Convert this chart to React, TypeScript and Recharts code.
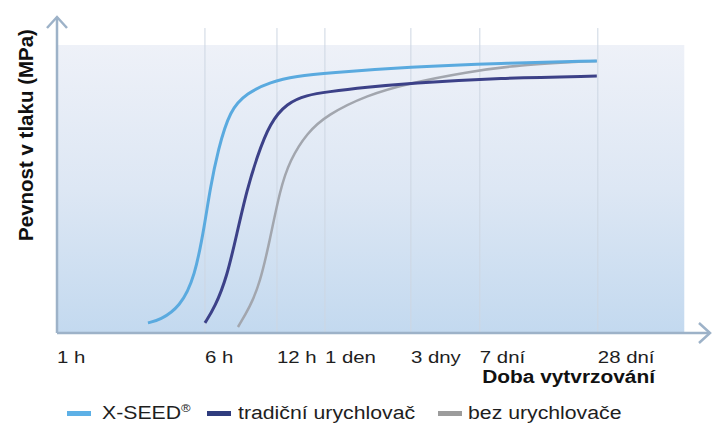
import React from 'react';
import { LineChart, Line, XAxis, YAxis, ReferenceArea, ReferenceLine } from 'recharts';

// x values are positions on the drawn (roughly logarithmic) time axis
const tickPositions = [0, 1.783, 2.651, 3.229, 4.265, 5.096, 6.518];
const tickLabels = ['1 h', '6 h', '12 h', '1 den', '3 dny', '7 dní', '28 dní'];

const xseedTime = [1.096, 1.241, 1.482, 1.663, 1.783, 1.843, 1.94, 2.084, 2.289, 2.566, 2.892, 3.253, 4.253, 5.337, 6.506];
const xseedStrength = [3.2, 4.1, 8.2, 17.7, 34.8, 45.3, 57.9, 70.6, 75.9, 79.4, 81.3, 82.3, 84.2, 85.4, 86.1];

const tradTime = [1.783, 1.904, 2.048, 2.169, 2.289, 2.41, 2.566, 2.771, 3.012, 3.253, 3.735, 4.253, 5.337, 6.506];
const tradStrength = [3.2, 8.2, 17.7, 31.6, 45.3, 55.7, 66.5, 72.8, 75.3, 76.3, 77.8, 79.1, 80.7, 81.3];

const bezTime = [2.181, 2.325, 2.446, 2.566, 2.687, 2.807, 3.012, 3.253, 3.735, 4.253, 4.94, 5.542, 6.506];
const bezStrength = [1.9, 8.2, 15.8, 29.4, 45.3, 54.7, 63.3, 69.0, 75.3, 79.1, 82.6, 84.8, 86.1];

const seriesNames = ['X-SEED', 'tradiční urychlovač', 'bez urychlovače'];
const seriesColors = ['#5aaadf', '#3c4188', '#a2a6ae'];
const legendColors = ['#5db0e6', '#2f3c7e', '#9c9c9c'];

const backgroundEnd = 7.56;
const backgroundTop = 91.1;
const gridTop = 96.5;

const build = (t: number[], v: number[]) => t.map((x, i) => ({ t: x, v: v[i] }));
const xseedData = build(xseedTime, xseedStrength);
const tradData = build(tradTime, tradStrength);
const bezData = build(bezTime, bezStrength);

const FONT = '"Liberation Sans", Arial, Helvetica, sans-serif';
const AXIS_COLOR = '#9db2c8';

const renderTick = (props: any) => {
  const { x, y, payload } = props;
  const idx = tickPositions.indexOf(payload.value);
  return (
    <text
      transform={`translate(${x},${y + 30}) scale(1.2,1)`}
      textAnchor="start"
      fontSize={17}
      fontFamily={FONT}
      fill="#1e1e1e"
    >
      {tickLabels[idx]}
    </text>
  );
};

const renderXLabel = () => (
  <text
    transform="translate(655,383) scale(1.16,1)"
    textAnchor="end"
    fontSize={18}
    fontWeight="bold"
    fontFamily={FONT}
    fill="#111"
  >
    Doba vytvrzování
  </text>
);

const renderYLabel = () => (
  <text
    transform="translate(33,135) rotate(-90)"
    textAnchor="middle"
    fontSize={20.5}
    fontWeight="bold"
    fontFamily={FONT}
    fill="#111"
  >
    Pevnost v tlaku (MPa)
  </text>
);

const legendLayout = [
  { swatch: 67, text: 102 },
  { swatch: 207, text: 238 },
  { swatch: 438, text: 468 },
];

export default function App() {
  return (
    <div style={{ position: 'absolute', left: 0, top: 0, width: 712, height: 424, background: '#fff' }}>
      <LineChart width={712} height={424} margin={{ top: 17, right: 2, left: 56, bottom: 61 }}>
        <defs>
          <linearGradient id="bgGrad" x1="0" y1="0" x2="0" y2="1">
            <stop offset="0%" stopColor="#eef1f8" />
            <stop offset="50%" stopColor="#dde7f4" />
            <stop offset="100%" stopColor="#c3d9ef" />
          </linearGradient>
          <marker
            id="axisArrow"
            viewBox="-13 -12 15 24"
            markerWidth={15}
            markerHeight={24}
            refX={0}
            refY={0}
            orient="auto-start-reverse"
            markerUnits="userSpaceOnUse"
          >
            <path d="M-11,-10 L0,0 L-11,10" fill="none" stroke={AXIS_COLOR} strokeWidth={2.5} />
          </marker>
        </defs>
        <ReferenceArea
          x1={0}
          x2={backgroundEnd}
          y1={0}
          y2={backgroundTop}
          fill="url(#bgGrad)"
          fillOpacity={1}
          stroke="none"
          ifOverflow="visible"
        />
        {tickPositions.slice(1).map((p) => (
          <ReferenceLine
            key={p}
            segment={[{ x: p, y: 0 }, { x: p, y: gridTop }]}
            stroke="#cdd6e2"
            strokeWidth={1}
            ifOverflow="visible"
          />
        ))}
        <XAxis
          dataKey="t"
          type="number"
          domain={[0, 7.87]}
          ticks={tickPositions}
          allowDataOverflow
          tickLine={false}
          tickSize={0}
          tickMargin={0}
          height={30}
          tick={renderTick}
          axisLine={{ stroke: AXIS_COLOR, strokeWidth: 2.5, markerEnd: 'url(#axisArrow)' }}
          label={renderXLabel}
        />
        <YAxis
          type="number"
          domain={[0, 100]}
          allowDataOverflow
          width={1}
          tick={false}
          tickLine={false}
          axisLine={{ stroke: AXIS_COLOR, strokeWidth: 2.5, markerStart: 'url(#axisArrow)' }}
          label={renderYLabel}
        />
        <Line
          data={bezData}
          dataKey="v"
          name={seriesNames[2]}
          type="basis"
          stroke={seriesColors[2]}
          strokeWidth={2.5}
          dot={false}
          activeDot={false}
          isAnimationActive={false}
        />
        <Line
          data={tradData}
          dataKey="v"
          name={seriesNames[1]}
          type="basis"
          stroke={seriesColors[1]}
          strokeWidth={3}
          dot={false}
          activeDot={false}
          isAnimationActive={false}
        />
        <Line
          data={xseedData}
          dataKey="v"
          name={seriesNames[0]}
          type="basis"
          stroke={seriesColors[0]}
          strokeWidth={3}
          dot={false}
          activeDot={false}
          isAnimationActive={false}
        />
      </LineChart>
      {seriesNames.map((name, i) => (
        <React.Fragment key={name}>
          <div
            style={{
              position: 'absolute',
              left: legendLayout[i].swatch,
              top: 411,
              width: 24,
              height: 5,
              background: legendColors[i],
            }}
          />
          <div
            style={{
              position: 'absolute',
              left: legendLayout[i].text,
              top: 404,
              fontFamily: FONT,
              fontSize: 18,
              lineHeight: '18px',
              color: '#1e1e1e',
              whiteSpace: 'nowrap',
              transform: 'scaleX(1.18)',
              transformOrigin: 'left center',
            }}
          >
            {name}
            {i === 0 ? <sup style={{ fontSize: 11, lineHeight: 0 }}>®</sup> : null}
          </div>
        </React.Fragment>
      ))}
    </div>
  );
}
